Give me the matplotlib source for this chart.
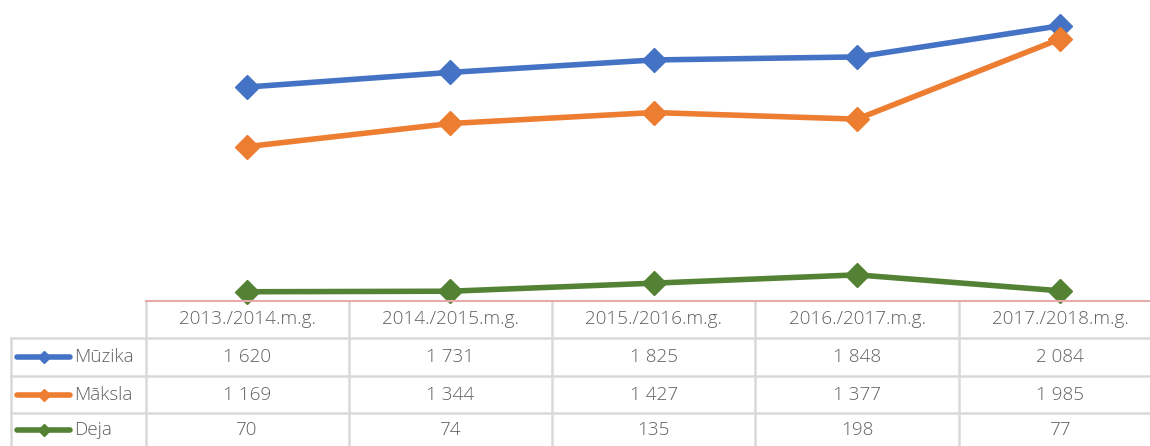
import matplotlib
matplotlib.use("Agg")
import matplotlib.pyplot as plt
from matplotlib.lines import Line2D

categories = ["2013./2014.m.g.", "2014./2015.m.g.", "2015./2016.m.g.", "2016./2017.m.g.", "2017./2018.m.g."]
series_names = ["Mūzika", "Māksla", "Deja"]
muzika = [1620, 1731, 1825, 1848, 2084]
maksla = [1169, 1344, 1427, 1377, 1985]
deja = [70, 74, 135, 198, 77]
series_values = [muzika, maksla, deja]
colors = ["#4472C4", "#ED7D31", "#548235"]

W, H = 1150, 446
plt.rcParams['font.family'] = ['Open Sans', 'DejaVu Sans']
fig = plt.figure(figsize=(W / 100, H / 100), dpi=100)

# layout in pixels
col_left = 145.5
col_w = 203.3
axis_y = 301.0
ymax = 2279

ax = fig.add_axes([col_left / W, (H - axis_y) / H, col_w * 5 / W, axis_y / H])
ax.set_xlim(-0.5, 4.5)
ax.set_ylim(0, ymax)
ax.axis('off')
x = list(range(len(categories)))
for vals, c in zip(series_values, colors):
    ax.plot(x, vals, color=c, lw=4, marker='D', ms=12.5, solid_capstyle='round',
            solid_joinstyle='round', clip_on=False, zorder=3)

# overlay for table in pixel coords
ov = fig.add_axes([0, 0, 1, 1], zorder=-1)
ov.set_xlim(0, W)
ov.set_ylim(H, 0)
ov.axis('off')

grid_c = "#D9D9D9"
text_c = "#606060"
row_tops = [301, 338, 376, 413, 451]
col_edges = [col_left + i * col_w for i in range(6)]
left_x = 10.5

# horizontal lines
ov.plot([col_left, W + 20], [301, 301], color=grid_c, lw=1.2)
for yy in row_tops[1:4]:
    ov.plot([left_x, W + 20], [yy, yy], color=grid_c, lw=1.8)
# vertical lines
ov.plot([left_x, left_x], [338, H + 5], color=grid_c, lw=1.8)
for xx in col_edges:
    ov.plot([xx, xx], [301, H + 5], color=grid_c, lw=1.8)

# axis line (pinkish)
fig.add_artist(Line2D([col_left / W, 1.02], [(H - 300.5) / H] * 2, color="#E6AAAA", lw=1.5, zorder=5))

fs = 13.6
fw = 'light'
for i, cat in enumerate(categories):
    cx = col_left + col_w * (i + 0.5)
    ov.text(cx, (301 + 338) / 2, cat, ha='center', va='center', fontsize=fs, color=text_c, fontweight=fw)

def fmt(v):
    return f"{v:,}".replace(",", " ")

for r, (name, vals, c) in enumerate(zip(series_names, series_values, colors)):
    cy = (row_tops[r + 1] + row_tops[r + 2]) / 2
    if r == 2:
        cy = 430
    ov.plot([17, 70], [cy, cy], color=c, lw=4, solid_capstyle='round')
    ov.plot([43.5], [cy], marker='D', color=c, ms=6)
    ov.text(74, cy, name, ha='left', va='center', fontsize=fs, color=text_c, fontweight=fw)
    for i, v in enumerate(vals):
        cx = col_left + col_w * (i + 0.5)
        ov.text(cx, cy, fmt(v), ha='center', va='center', fontsize=fs, color=text_c, fontweight=fw)

fig.savefig("out.png", dpi=100)
